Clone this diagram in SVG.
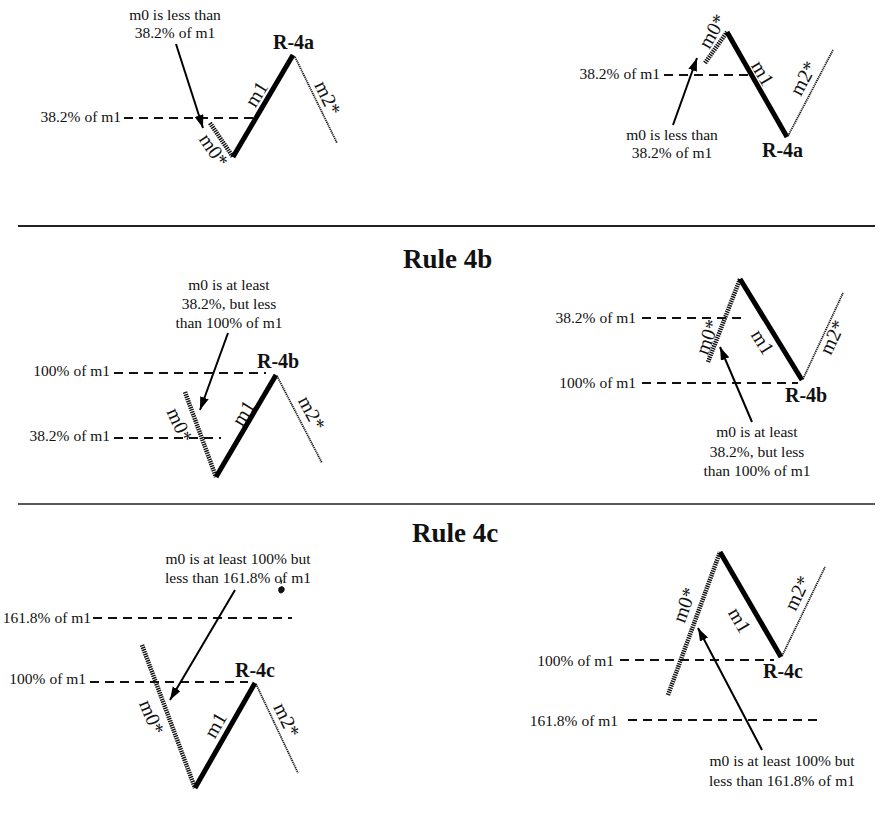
<svg xmlns="http://www.w3.org/2000/svg" width="885" height="819" viewBox="0 0 885 819">
<style>
text{font-family:"Liberation Serif","Times New Roman",serif;fill:#111}
.t{font-size:15.5px;text-anchor:middle}
.le{font-size:15.5px;text-anchor:end}
.r{font-size:20px;font-weight:bold}
.title{font-size:27px;font-weight:bold}
.lbl{font-size:20px;text-anchor:middle}
.m1{stroke:#000;stroke-width:5;fill:none}
.m0{stroke:#111;stroke-width:4.5;stroke-dasharray:1.4 0.9;fill:none}
.m2{stroke:#111;stroke-width:1.8;stroke-dasharray:1.2 0.8;fill:none}
.dash{stroke:#111;stroke-width:1.8;stroke-dasharray:9 6;fill:none}
.arr{stroke:#000;stroke-width:2;fill:none;marker-end:url(#ah)}
.rule{stroke:#222;fill:none}
</style>
<defs>
<marker id="ah" markerUnits="userSpaceOnUse" markerWidth="14" markerHeight="10" refX="13" refY="4.5" orient="auto">
<path d="M0,0 L13,4.5 L0,9 z" fill="#000"/>
</marker>
</defs>
<rect width="885" height="819" fill="#fff"/>

<g id="dividers">
<line class="rule" x1="18" y1="226" x2="875" y2="226" stroke-width="2"/>
<line class="rule" x1="18" y1="504" x2="875" y2="504" stroke-width="1.5"/>
</g>
<g id="titles">
<text class="title" x="403" y="268">Rule 4b</text>
<text class="title" x="412" y="542">Rule 4c</text>
</g>

<!-- Section 4a left -->
<g id="a-left">
<text class="t" x="175" y="20">m0 is less than</text>
<text class="t" x="175" y="38">38.2% of m1</text>
<text class="r" x="273" y="49">R-4a</text>
<text class="le" x="121" y="122">38.2% of m1</text>
<text class="lbl" transform="translate(214,150) rotate(56)" y="7">m0*</text>
<text class="lbl" transform="translate(256,94) rotate(-58)" y="7">m1</text>
<text class="lbl" transform="translate(328,98) rotate(64)" y="7">m2*</text>
</g>
<!-- Section 4a right -->
<g id="a-right">
<text class="t" x="672" y="140">m0 is less than</text>
<text class="t" x="672" y="158">38.2% of m1</text>
<text class="r" x="762" y="157">R-4a</text>
<text class="le" x="660" y="79">38.2% of m1</text>
<text class="lbl" transform="translate(712,31) rotate(-60)" y="7">m0*</text>
<text class="lbl" transform="translate(763,73) rotate(60)" y="7">m1</text>
<text class="lbl" transform="translate(803,78) rotate(-62)" y="7">m2*</text>
</g>
<!-- Section 4b left -->
<g id="b-left">
<text class="t" x="229" y="290">m0 is at least</text>
<text class="t" x="229" y="309">38.2%, but less</text>
<text class="t" x="229" y="328">than 100% of m1</text>
<text class="r" x="257" y="368">R-4b</text>
<text class="le" x="110" y="376">100% of m1</text>
<text class="le" x="110" y="441">38.2% of m1</text>
<text class="lbl" transform="translate(180,425) rotate(66)" y="7">m0*</text>
<text class="lbl" transform="translate(243,413) rotate(-58)" y="7">m1</text>
<text class="lbl" transform="translate(312,413) rotate(62)" y="7">m2*</text>
</g>
<!-- Section 4b right -->
<g id="b-right">
<text class="t" x="757" y="437">m0 is at least</text>
<text class="t" x="757" y="457">38.2%, but less</text>
<text class="t" x="757" y="476">than 100% of m1</text>
<text class="r" x="785" y="402">R-4b</text>
<text class="le" x="636" y="323">38.2% of m1</text>
<text class="le" x="636" y="388">100% of m1</text>
<text class="lbl" transform="translate(707,337) rotate(-70)" y="7">m0*</text>
<text class="lbl" transform="translate(763,342) rotate(58)" y="7">m1</text>
<text class="lbl" transform="translate(832,337) rotate(-65)" y="7">m2*</text>
</g>
<!-- Section 4c left -->
<g id="c-left">
<text class="t" x="238" y="564">m0 is at least 100% but</text>
<text class="t" x="238" y="583">less than 161.8% of m1</text>
<text class="r" x="235" y="677">R-4c</text>
<text class="le" x="91" y="623">161.8% of m1</text>
<text class="le" x="86" y="684">100% of m1</text>
<text class="lbl" transform="translate(152,717) rotate(68)" y="7">m0*</text>
<text class="lbl" transform="translate(215,725) rotate(-60)" y="7">m1</text>
<text class="lbl" transform="translate(287,720) rotate(64)" y="7">m2*</text>
<path d="M279,588 q3,-3 5,0 q1,4 -3,5 q-3,0 -2,-5 z M281,584 l1,-4" fill="#111" stroke="#111" stroke-width="1"/>
</g>
<!-- Section 4c right -->
<g id="c-right">
<text class="t" x="782" y="766">m0 is at least 100% but</text>
<text class="t" x="782" y="786">less than 161.8% of m1</text>
<text class="r" x="763" y="678">R-4c</text>
<text class="le" x="614" y="666">100% of m1</text>
<text class="le" x="618" y="726">161.8% of m1</text>
<text class="lbl" transform="translate(684,605) rotate(-70)" y="7">m0*</text>
<text class="lbl" transform="translate(740,620) rotate(60)" y="7">m1</text>
<text class="lbl" transform="translate(797,593) rotate(-64)" y="7">m2*</text>
</g>

<g id="connectors">
<!-- 4a left -->
<line class="dash" x1="124" y1="118" x2="256" y2="118"/>
<line class="m0" x1="210" y1="123" x2="233" y2="157"/>
<line class="m1" x1="233" y1="157" x2="293" y2="55"/>
<line class="m2" x1="295" y1="57" x2="337" y2="143"/>
<line class="arr" x1="176" y1="44" x2="203" y2="128"/>
<!-- 4a right -->
<line class="dash" x1="664" y1="75" x2="750" y2="75"/>
<line class="m0" x1="705" y1="63" x2="727" y2="32"/>
<line class="m1" x1="727" y1="32" x2="787" y2="137"/>
<line class="m2" x1="788" y1="136" x2="833" y2="50"/>
<line class="arr" x1="673" y1="125" x2="697" y2="58"/>
<!-- 4b left -->
<line class="dash" x1="114" y1="373" x2="266" y2="373"/>
<line class="dash" x1="114" y1="438" x2="221" y2="438"/>
<line class="m0" x1="185" y1="392" x2="216" y2="477"/>
<line class="m1" x1="216" y1="477" x2="276" y2="375"/>
<line class="m2" x1="277" y1="376" x2="322" y2="463"/>
<line class="arr" x1="228" y1="333" x2="200" y2="410"/>
<!-- 4b right -->
<line class="dash" x1="642" y1="318" x2="746" y2="318"/>
<line class="dash" x1="642" y1="383" x2="798" y2="383"/>
<line class="m0" x1="708" y1="362" x2="740" y2="279"/>
<line class="m1" x1="740" y1="279" x2="802" y2="380"/>
<line class="m2" x1="803" y1="379" x2="843" y2="293"/>
<line class="arr" x1="752" y1="422" x2="720" y2="347"/>
<!-- 4c left -->
<line class="dash" x1="93" y1="618" x2="292" y2="618"/>
<line class="dash" x1="90" y1="682" x2="248" y2="682"/>
<line class="m0" x1="142" y1="645" x2="195" y2="788"/>
<line class="m1" x1="195" y1="788" x2="255" y2="683"/>
<line class="m2" x1="256" y1="684" x2="298" y2="773"/>
<line class="arr" x1="235" y1="590" x2="170" y2="700"/>
<!-- 4c right -->
<line class="dash" x1="620" y1="660" x2="774" y2="660"/>
<line class="dash" x1="628" y1="720" x2="818" y2="720"/>
<line class="m0" x1="668" y1="695" x2="720" y2="552"/>
<line class="m1" x1="720" y1="552" x2="781" y2="657"/>
<line class="m2" x1="782" y1="656" x2="825" y2="567"/>
<line class="arr" x1="762" y1="750" x2="698" y2="628"/>
</g>
</svg>
